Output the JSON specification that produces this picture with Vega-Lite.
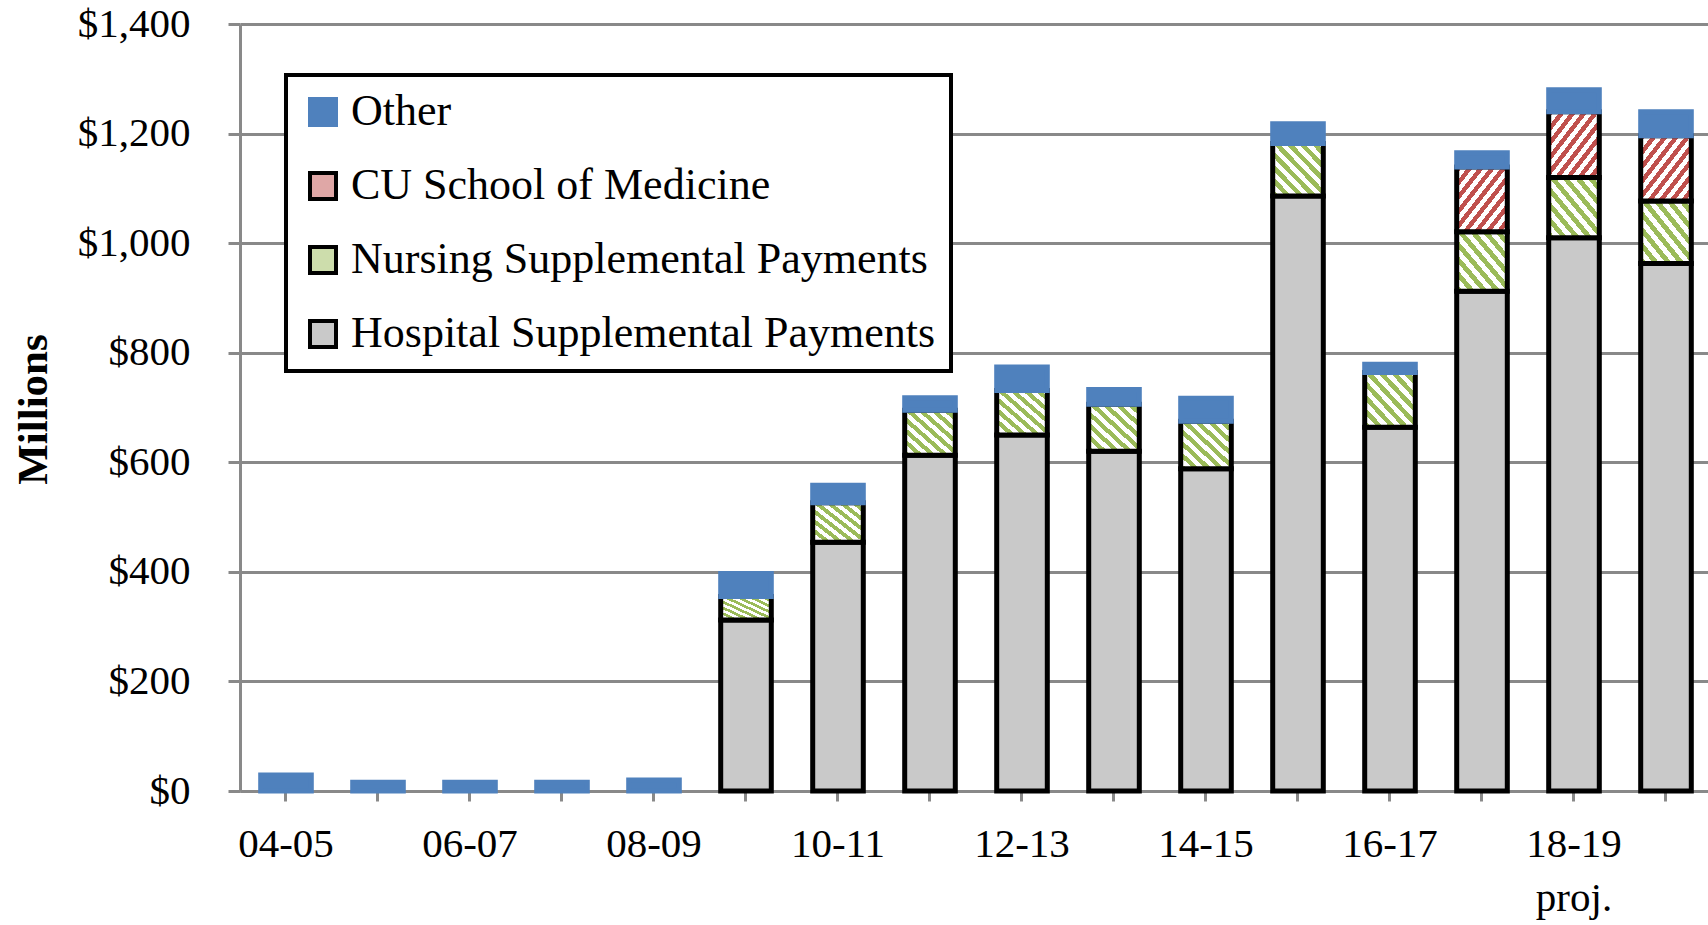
{
  "$schema": "https://vega.github.io/schema/vega-lite/v6.json",
  "width": 1472,
  "height": 767,
  "autosize": {"type": "none"},
  "padding": {"left": 240, "top": 24, "right": 0, "bottom": 134},
  "background": "white",
  "config": {
    "view": {"stroke": null},
    "font": "Liberation Serif"
  },
  "data": {
    "values": [
      {"year": "04-05", "cat": "Other", "v": 29},
      {"year": "05-06", "cat": "Other", "v": 16},
      {"year": "06-07", "cat": "Other", "v": 16},
      {"year": "07-08", "cat": "Other", "v": 16},
      {"year": "08-09", "cat": "Other", "v": 20},
      {"year": "09-10", "cat": "Hospital Supplemental Payments", "v": 312},
      {"year": "09-10", "cat": "Nursing Supplemental Payments", "v": 43},
      {"year": "09-10", "cat": "Other", "v": 42},
      {"year": "10-11", "cat": "Hospital Supplemental Payments", "v": 454},
      {"year": "10-11", "cat": "Nursing Supplemental Payments", "v": 72},
      {"year": "10-11", "cat": "Other", "v": 32},
      {"year": "11-12", "cat": "Hospital Supplemental Payments", "v": 613},
      {"year": "11-12", "cat": "Nursing Supplemental Payments", "v": 82},
      {"year": "11-12", "cat": "Other", "v": 23},
      {"year": "12-13", "cat": "Hospital Supplemental Payments", "v": 650},
      {"year": "12-13", "cat": "Nursing Supplemental Payments", "v": 81},
      {"year": "12-13", "cat": "Other", "v": 43},
      {"year": "13-14", "cat": "Hospital Supplemental Payments", "v": 620},
      {"year": "13-14", "cat": "Nursing Supplemental Payments", "v": 86},
      {"year": "13-14", "cat": "Other", "v": 27},
      {"year": "14-15", "cat": "Hospital Supplemental Payments", "v": 588},
      {"year": "14-15", "cat": "Nursing Supplemental Payments", "v": 87},
      {"year": "14-15", "cat": "Other", "v": 42},
      {"year": "15-16", "cat": "Hospital Supplemental Payments", "v": 1086},
      {"year": "15-16", "cat": "Nursing Supplemental Payments", "v": 96},
      {"year": "15-16", "cat": "Other", "v": 36},
      {"year": "16-17", "cat": "Hospital Supplemental Payments", "v": 664},
      {"year": "16-17", "cat": "Nursing Supplemental Payments", "v": 100},
      {"year": "16-17", "cat": "Other", "v": 15},
      {"year": "17-18", "cat": "Hospital Supplemental Payments", "v": 912},
      {"year": "17-18", "cat": "Nursing Supplemental Payments", "v": 109},
      {"year": "17-18", "cat": "CU School of Medicine", "v": 118},
      {"year": "17-18", "cat": "Other", "v": 26},
      {"year": "18-19", "cat": "Hospital Supplemental Payments", "v": 1010},
      {"year": "18-19", "cat": "Nursing Supplemental Payments", "v": 110},
      {"year": "18-19", "cat": "CU School of Medicine", "v": 120},
      {"year": "18-19", "cat": "Other", "v": 40},
      {"year": "19-20", "cat": "Hospital Supplemental Payments", "v": 963},
      {"year": "19-20", "cat": "Nursing Supplemental Payments", "v": 114},
      {"year": "19-20", "cat": "CU School of Medicine", "v": 119},
      {"year": "19-20", "cat": "Other", "v": 44}
    ]
  },
  "transform": [
    {"calculate": "indexof(['Hospital Supplemental Payments','Nursing Supplemental Payments','CU School of Medicine','Other'], datum.cat)", "as": "k"}
  ],
  "mark": {"type": "bar", "strokeWidth": 5, "strokeJoin": "miter"},
  "encoding": {
    "x": {
      "field": "year",
      "type": "nominal",
      "sort": null,
      "scale": {"paddingInner": 0.45, "paddingOuter": 0.225},
      "axis": {
        "title": null,
        "labelAngle": 0,
        "labelExpr": "datum.value == '18-19' ? ['18-19','proj.'] : (indexof(['04-05','06-07','08-09','10-11','12-13','14-15','16-17'], datum.value) >= 0 ? datum.label : '')",
        "labelFont": "Liberation Serif",
        "labelFontSize": 41,
        "labelColor": "black",
        "labelPadding": 23,
        "labelLineHeight": 54,
        "labelOverlap": false,
        "tickSize": 10,
        "tickWidth": 3,
        "tickColor": "#898989",
        "domainColor": "#898989",
        "domainWidth": 3,
        "grid": false
      }
    },
    "y": {
      "field": "v",
      "type": "quantitative",
      "stack": "zero",
      "scale": {"domain": [0, 1400], "nice": false},
      "axis": {
        "title": "Millions",
        "values": [0, 200, 400, 600, 800, 1000, 1200, 1400],
        "format": "$,.0f",
        "labelFont": "Liberation Serif",
        "labelFontSize": 41,
        "labelColor": "black",
        "labelPadding": 38,
        "labelBaseline": "middle",
        "labelFlush": false,
        "tickSize": 12,
        "tickWidth": 3,
        "tickColor": "#898989",
        "domainColor": "#898989",
        "domainWidth": 3,
        "grid": true,
        "gridColor": "#898989",
        "gridWidth": 3,
        "titleFont": "Liberation Serif",
        "titleFontSize": 43,
        "titleFontWeight": "bold",
        "titleColor": "black",
        "titleAngle": -90,
        "titleX": -207,
        "titleY": 385,
        "titleAlign": "center",
        "titleBaseline": "middle"
      }
    },
    "fill": {
      "field": "cat",
      "type": "nominal",
      "condition": [
        {
          "test": "datum.cat === 'Nursing Supplemental Payments'",
          "value": {
            "gradient": "linear", "x1": 0, "y1": 1, "x2": 1, "y2": 0,
            "stops": [
              {"offset": 0, "color": "#9bbb59"}, {"offset": 0.0625, "color": "#9bbb59"}, {"offset": 0.0625, "color": "#ffffff"}, {"offset": 0.125, "color": "#ffffff"},
              {"offset": 0.125, "color": "#9bbb59"}, {"offset": 0.1875, "color": "#9bbb59"}, {"offset": 0.1875, "color": "#ffffff"}, {"offset": 0.25, "color": "#ffffff"},
              {"offset": 0.25, "color": "#9bbb59"}, {"offset": 0.3125, "color": "#9bbb59"}, {"offset": 0.3125, "color": "#ffffff"}, {"offset": 0.375, "color": "#ffffff"},
              {"offset": 0.375, "color": "#9bbb59"}, {"offset": 0.4375, "color": "#9bbb59"}, {"offset": 0.4375, "color": "#ffffff"}, {"offset": 0.5, "color": "#ffffff"},
              {"offset": 0.5, "color": "#9bbb59"}, {"offset": 0.5625, "color": "#9bbb59"}, {"offset": 0.5625, "color": "#ffffff"}, {"offset": 0.625, "color": "#ffffff"},
              {"offset": 0.625, "color": "#9bbb59"}, {"offset": 0.6875, "color": "#9bbb59"}, {"offset": 0.6875, "color": "#ffffff"}, {"offset": 0.75, "color": "#ffffff"},
              {"offset": 0.75, "color": "#9bbb59"}, {"offset": 0.8125, "color": "#9bbb59"}, {"offset": 0.8125, "color": "#ffffff"}, {"offset": 0.875, "color": "#ffffff"},
              {"offset": 0.875, "color": "#9bbb59"}, {"offset": 0.9375, "color": "#9bbb59"}, {"offset": 0.9375, "color": "#ffffff"}, {"offset": 1, "color": "#ffffff"}
            ]
          }
        },
        {
          "test": "datum.cat === 'CU School of Medicine'",
          "value": {
            "gradient": "linear", "x1": 0, "y1": 0, "x2": 1, "y2": 1,
            "stops": [
              {"offset": 0, "color": "#c0504d"}, {"offset": 0.0556, "color": "#c0504d"}, {"offset": 0.0556, "color": "#ffffff"}, {"offset": 0.1111, "color": "#ffffff"},
              {"offset": 0.1111, "color": "#c0504d"}, {"offset": 0.1667, "color": "#c0504d"}, {"offset": 0.1667, "color": "#ffffff"}, {"offset": 0.2222, "color": "#ffffff"},
              {"offset": 0.2222, "color": "#c0504d"}, {"offset": 0.2778, "color": "#c0504d"}, {"offset": 0.2778, "color": "#ffffff"}, {"offset": 0.3333, "color": "#ffffff"},
              {"offset": 0.3333, "color": "#c0504d"}, {"offset": 0.3889, "color": "#c0504d"}, {"offset": 0.3889, "color": "#ffffff"}, {"offset": 0.4444, "color": "#ffffff"},
              {"offset": 0.4444, "color": "#c0504d"}, {"offset": 0.5, "color": "#c0504d"}, {"offset": 0.5, "color": "#ffffff"}, {"offset": 0.5556, "color": "#ffffff"},
              {"offset": 0.5556, "color": "#c0504d"}, {"offset": 0.6111, "color": "#c0504d"}, {"offset": 0.6111, "color": "#ffffff"}, {"offset": 0.6667, "color": "#ffffff"},
              {"offset": 0.6667, "color": "#c0504d"}, {"offset": 0.7222, "color": "#c0504d"}, {"offset": 0.7222, "color": "#ffffff"}, {"offset": 0.7778, "color": "#ffffff"},
              {"offset": 0.7778, "color": "#c0504d"}, {"offset": 0.8333, "color": "#c0504d"}, {"offset": 0.8333, "color": "#ffffff"}, {"offset": 0.8889, "color": "#ffffff"},
              {"offset": 0.8889, "color": "#c0504d"}, {"offset": 0.9444, "color": "#c0504d"}, {"offset": 0.9444, "color": "#ffffff"}, {"offset": 1, "color": "#ffffff"}
            ]
          }
        }
      ],
      "scale": {
        "domain": ["Other", "CU School of Medicine", "Nursing Supplemental Payments", "Hospital Supplemental Payments"],
        "range": ["#4f81bd", "#dfa7a6", "#cdddac", "#c9c9c9"]
      },
      "legend": {
        "title": null,
        "orient": "none",
        "legendX": 46,
        "legendY": 51,
        "symbolType": "square",
        "symbolSize": 676,
        "symbolStrokeWidth": 4,
        "labelFont": "Liberation Serif",
        "labelFontSize": 44,
        "labelColor": "black",
        "labelOffset": 6,
        "labelLimit": 800,
        "rowPadding": 30,
        "padding": 15,
        "strokeColor": "black",
        "fillColor": "white",
        "encode": {"legend": {"update": {"strokeWidth": {"value": 4}}}}
      }
    },
    "stroke": {
      "field": "cat",
      "type": "nominal",
      "scale": {
        "domain": ["Other", "CU School of Medicine", "Nursing Supplemental Payments", "Hospital Supplemental Payments"],
        "range": ["#4f81bd", "#000000", "#000000", "#000000"]
      },
      "legend": {
        "title": null,
        "orient": "none",
        "legendX": 46,
        "legendY": 51,
        "symbolType": "square",
        "symbolSize": 676,
        "symbolStrokeWidth": 4,
        "labelFont": "Liberation Serif",
        "labelFontSize": 44,
        "labelColor": "black",
        "labelOffset": 6,
        "labelLimit": 800,
        "rowPadding": 30,
        "padding": 15,
        "strokeColor": "black",
        "fillColor": "white",
        "encode": {"legend": {"update": {"strokeWidth": {"value": 4}}}}
      }
    },
    "order": {"field": "k", "type": "quantitative"}
  }
}
